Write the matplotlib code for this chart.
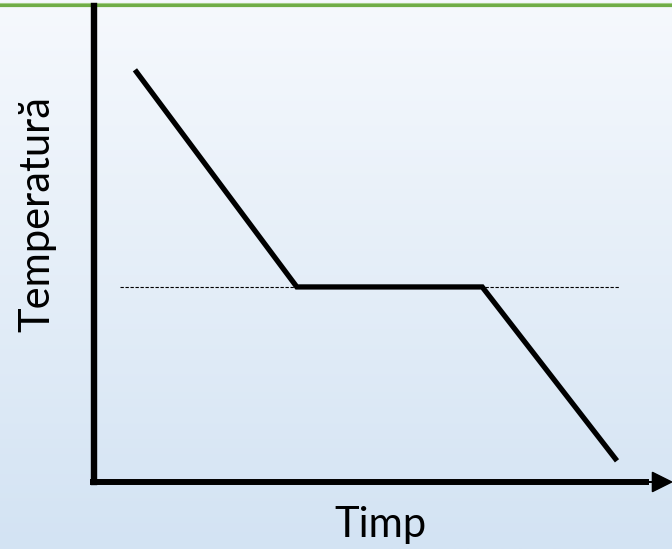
import numpy as np
import matplotlib.pyplot as plt
from matplotlib.colors import LinearSegmentedColormap

# cooling curve: time vs temperature (arbitrary units)
time = [0.9, 4.42, 8.45, 11.38]
temp = [8.96, 4.24, 4.24, 0.46]
plateau = 4.24
plateau_span = [0.58, 11.45]

xlabel = "Timp"
ylabel = "Temperatură"

fig = plt.figure(figsize=(6.72, 5.49), dpi=100)
ax = fig.add_axes([0, 0, 1, 1])
x0, x1 = -2.033, 12.576
y0, y1 = -1.457, 10.478
ax.set_xlim(x0, x1)
ax.set_ylim(y0, y1)
ax.axis("off")

# soft blue vertical gradient background
cmap = LinearSegmentedColormap.from_list("bg", ["#d3e3f3", "#f6f9fd"])
grad = np.linspace(0, 1, 256).reshape(-1, 1)
ax.imshow(grad, cmap=cmap, extent=[x0, x1, y0, y1], origin="lower",
          aspect="auto", zorder=0)

# green rule at the top
ax.axhline(10.41, color="#a9d18e", lw=0.8, zorder=1)
ax.axhline(10.37, color="#70ad47", lw=2.3, zorder=1)

# axes with arrow
ax.plot([0, 0], [0, 10.35], color="black", lw=4.6,
        solid_capstyle="projecting", zorder=3)
ax.plot([-0.02, 12.0], [0, 0], color="black", lw=4.3,
        solid_capstyle="projecting", zorder=3)
ax.arrow(11.9, 0, 12.57 - 11.9, 0, width=0.0, head_width=0.42,
         head_length=0.42, length_includes_head=True, color="black",
         zorder=3)

# dashed reference level
ax.plot(plateau_span, [plateau, plateau], color="black", lw=0.8,
        dashes=(3, 1.5), zorder=2)

# curve
ax.plot(time, temp, color="black", lw=3.8, solid_joinstyle="miter",
        solid_capstyle="butt", zorder=4)

ax.text(6.23, -1.196, xlabel, ha="center", va="baseline",
        fontsize=30, family="Lato")
ax.text(-1.23, 5.83, ylabel, ha="center", va="center", rotation=90,
        fontsize=30, family="Lato")

fig.savefig("out.png", dpi=100)
